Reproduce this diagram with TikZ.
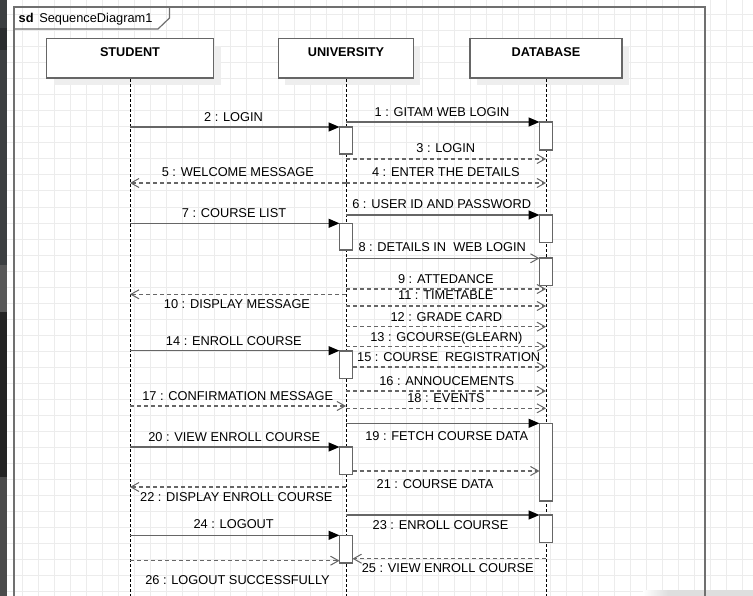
\documentclass[tikz,border=0pt]{standalone}
\usepackage{fontspec}
\setmainfont{Liberation Sans}
\usetikzlibrary{arrows.meta,calc}
\definecolor{lnc}{HTML}{666666}
\definecolor{gridc}{HTML}{ECECEC}
\definecolor{framec}{HTML}{707070}
\definecolor{shadowc}{HTML}{EEEEEE}
\definecolor{stripA}{HTML}{3C3F41}
\definecolor{stripB}{HTML}{2B2D2F}
\definecolor{stripC}{HTML}{585858}
\definecolor{stripD}{HTML}{242424}
\definecolor{stripE}{HTML}{4B4B4B}
\newcommand\Msg[8]{%
  \draw[#2] (#3 |- 0,#5) -- (#4 |- 0,#5);
  \node[lbl] (#1) at (#7,#8) {#6};}
\newcommand\Act[4]{%
  \node[act, minimum height={#4-#3}] (#1) at ($(#2)+(0,{(#3+#4)/2})$) {};}
\begin{document}
\begin{tikzpicture}[x=1bp,y=-1bp,
  lbl/.style={anchor=base, yshift=-4.6bp, inner sep=0pt, font=\fontsize{12.8bp}{15bp}\selectfont},
  headtxt/.style={anchor=base, inner sep=0pt, font=\fontsize{12.7bp}{15bp}\selectfont\bfseries},
  lifebox/.style={draw=lnc, line width=1.5bp, fill=white, inner sep=0pt},
  lifeline/.style={draw=black, line width=1bp, dash pattern=on 3bp off 2bp},
  act/.style={draw=lnc, line width=1.5bp, fill=white, minimum width=13bp, inner sep=0pt},
  call/.style={draw=lnc, line width=1.4bp, -{Triangle[length=11bp,width=9bp,fill=black,color=black]}},
  callopen/.style={draw=lnc, line width=1.4bp, -{Straight Barb[length=8bp,width=9bp,line width=1bp]}},
  reply/.style={draw=lnc, line width=1.3bp, dash pattern=on 4bp off 3bp, -{Straight Barb[length=8bp,width=9bp,line width=1bp]}},
  frameline/.style={draw=framec, line width=1.6bp}]
\useasboundingbox (0,0) rectangle (753,596);
\fill[white] (0,0) rectangle (753,596);
% grid
\foreach \i in {0,...,46} \draw[gridc, line width=1bp] ({6.7+16*\i},0) -- ({6.7+16*\i},596);
\foreach \j in {0,...,36} \draw[gridc, line width=1bp] (0,{15+16*\j}) -- (753,{15+16*\j});
% left editor strip
\fill[stripA] (0,0) rectangle (6.5,28);
\fill[stripB] (0,28) rectangle (6.5,50);
\fill[stripA] (0,50) rectangle (6.5,265);
\fill[stripC] (0,265) rectangle (6.5,312);
\fill[stripD] (0,312) rectangle (6.5,477);
\fill[stripE] (0,477) rectangle (6.5,596);
% bottom-right shadow
\shade[left color=white, right color=black!13] (643,590) rectangle (668,596);
\fill[black!13] (668,590) rectangle (753,596);
% frame
\draw[frameline] (14,600) -- (14,7) -- (705,7) -- (705,600);
\draw[draw=framec, line width=1.2bp] (14,29) -- (158,29) -- (169.5,18) -- (169.5,7);
\node[anchor=base west, inner sep=0pt, font=\fontsize{12.8bp}{15bp}\selectfont] (title) at (18.5,22.7) {\textbf{sd}\hspace{5.7bp}SequenceDiagram1};
% lifeline coordinates
\coordinate (S) at (130,0);
\coordinate (U) at (346,0);
\coordinate (D) at (546,0);
\coordinate (Ul) at (339.5,0);
\coordinate (Ur) at (352.5,0);
\coordinate (Dl) at (539.5,0);
% headers
\fill[shadowc] (53.5,46) rectangle (220.5,85.5);
\fill[shadowc] (285,46) rectangle (420,85.5);
\fill[shadowc] (477,46) rectangle (629,85.5);
\node[lifebox, minimum width=167bp, minimum height=39.5bp] (student) at (130,58.5) {};
\node[lifebox, minimum width=135bp, minimum height=39.5bp] (univ) at (346,58.5) {};
\node[lifebox, minimum width=152bp, minimum height=39.5bp] (db) at (546,58.5) {};
\node[headtxt] (studentT) at (130,56.7) {STUDENT};
\node[headtxt] (univT) at (346,56.7) {UNIVERSITY};
\node[headtxt] (dbT) at (546,56.7) {DATABASE};
\coordinate (Send) at (130,600);
\coordinate (Uend) at (346,600);
\coordinate (Dend) at (546,600);
\draw[lifeline] (student.south) -- (Send);
\draw[lifeline] (univ.south) -- (Uend);
\draw[lifeline] (db.south) -- (Dend);
% activations
\Act{ua1}{U}{127}{154.3}
\Act{ua2}{U}{223.3}{250}
\Act{ua3}{U}{351}{378.3}
\Act{ua4}{U}{447}{474.3}
\Act{ua5}{U}{535.3}{563}
\Act{da1}{D}{122}{150}
\Act{da2}{D}{215}{242.7}
\Act{da3}{D}{257.7}{285.7}
\Act{da4}{D}{423.3}{501}
\Act{da5}{D}{515}{542.7}
% messages
\Msg{m1}{call}{U}{Dl}{122}{1 : GITAM WEB LOGIN}{442}{111.7}
\Msg{m2}{call}{S}{Ul}{127}{2 : LOGIN}{233.5}{116.7}
\Msg{m3}{reply}{U}{D}{159}{3 : LOGIN}{445.8}{148.3}
\Msg{m4}{reply}{U}{D}{183}{4 : ENTER THE DETAILS}{445.8}{172.3}
\Msg{m5}{reply}{U}{S}{183}{5 : WELCOME MESSAGE}{237.8}{172.3}
\Msg{m6}{call}{U}{Dl}{215}{6 : USER ID AND PASSWORD}{441.7}{204.3}
\Msg{m7}{call}{S}{Ul}{223.3}{7 : COURSE LIST}{234}{212.7}
\Msg{m8}{callopen}{U}{Dl}{258.3}{8 : DETAILS IN\ \ WEB LOGIN}{442.2}{247.3}
\Msg{m9}{reply}{U}{D}{289}{9 : ATTEDANCE}{445.8}{279}
\Msg{m10}{reply}{U}{S}{294.3}{10 : DISPLAY MESSAGE}{237}{304.3}
\Msg{m11}{reply}{U}{D}{306}{11 : TIMETABLE}{445.8}{295.3}
\Msg{m12}{reply}{U}{D}{326.7}{12 : GRADE CARD}{446.3}{316.7}
\Msg{m13}{reply}{U}{D}{346.7}{13 : GCOURSE(GLEARN)}{446.3}{336.7}
\Msg{m14}{call}{S}{Ul}{350.7}{14 : ENROLL COURSE}{233.8}{340.7}
\Msg{m15}{reply}{Ur}{D}{367}{15 : COURSE\ \ REGISTRATION}{448.7}{356.7}
\Msg{m16}{reply}{U}{D}{391}{16 : ANNOUCEMENTS}{446.7}{380.7}
\Msg{m17}{reply}{S}{U}{406}{17 : CONFIRMATION MESSAGE}{237.8}{396}
\Msg{m18}{reply}{U}{D}{408.3}{18 : EVENTS}{446}{398.3}
\Msg{m19}{call}{U}{Dl}{423.3}{19 : FETCH COURSE DATA}{446.7}{435.7}
\Msg{m20}{call}{S}{Ul}{447}{20 : VIEW ENROLL COURSE}{234.2}{436.7}
\Msg{m21}{reply}{Ur}{Dl}{471}{21 : COURSE DATA}{435}{484.3}
\Msg{m22}{reply}{U}{S}{487}{22 : DISPLAY ENROLL COURSE}{236.3}{496.7}
\Msg{m23}{call}{U}{Dl}{515}{23 : ENROLL COURSE}{440.5}{524.7}
\Msg{m24}{call}{S}{Ul}{535.3}{24 : LOGOUT}{233.7}{524.3}
\Msg{m25}{reply}{D}{Ur}{558.7}{25 : VIEW ENROLL COURSE}{447.8}{568.3}
\Msg{m26}{reply}{S}{Ul}{560.7}{26 : LOGOUT SUCCESSFULLY}{237.5}{580}
\end{tikzpicture}
\end{document}
